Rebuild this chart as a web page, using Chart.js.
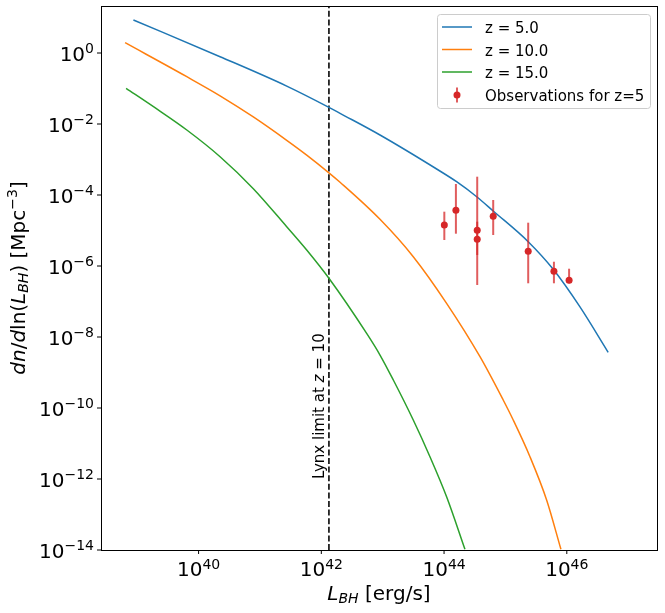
<!DOCTYPE html>
<html>
<head>
<meta charset="utf-8">
<script src="https://cdn.jsdelivr.net/npm/chart.js@4.4.1/dist/chart.umd.min.js"></script>
<style>
  html, body { margin: 0; padding: 0; background: #fff; }
  #wrap { width: 665px; height: 613px; }
</style>
</head>
<body>
<div id="wrap"><canvas id="chart" width="665" height="613"></canvas></div>
<script>
const FONT = '"DejaVu Sans", sans-serif';

// z = 5 curve
const lumZ5 = [8.67e38, 2.24e40, 2.73e41, 1.33e42, 2.02e42, 9.04e42, 8.05e43, 1.60e44, 3.40e44, 6.32e44, 2.35e45, 6.01e45, 1.63e46, 4.72e46];
const phiZ5 = [8.51, 0.787, 0.117, 0.0295, 0.0200, 4.90e-3, 5.06e-4, 2.37e-4, 8.95e-5, 3.55e-5, 4.84e-6, 8.07e-7, 7.14e-8, 3.71e-9];

// z = 10 curve
const lumZ10 = [6.35e38, 6.43e39, 2.24e40, 7.80e40, 2.73e41, 5.78e41, 1.33e42, 2.02e42, 9.04e42, 3.15e43, 1.10e44, 3.85e44, 9.20e44, 1.34e45, 2.51e45, 4.69e45, 8.02e45];
const phiZ10 = [1.95, 0.215, 0.0624, 0.0158, 3.47e-3, 1.33e-3, 4.22e-4, 2.29e-4, 2.07e-5, 1.83e-6, 8.89e-8, 2.79e-9, 1.68e-10, 4.59e-11, 4.25e-12, 2.56e-13, 1.05e-14];

// z = 15 curve
const lumZ15 = [6.59e38, 1.84e39, 6.43e39, 2.24e40, 7.80e40, 2.73e41, 5.78e41, 1.33e42, 5.48e42, 9.04e42, 1.49e43, 3.15e43, 5.89e43, 1.10e44, 2.19e44];
const phiZ15 = [0.101, 0.0307, 6.78e-3, 1.20e-3, 1.51e-4, 1.28e-5, 2.82e-6, 4.51e-7, 1.26e-8, 3.11e-9, 6.15e-10, 4.59e-11, 4.25e-12, 3.17e-13, 1.05e-14];

// observations for z = 5, with lower / upper ends of the error bars
const obsLum = [1.01e44, 1.56e44, 3.47e44, 3.47e44, 6.32e44, 2.35e45, 6.17e45, 1.09e46];
const obsPhi = [1.43e-5, 3.71e-5, 1.01e-5, 5.65e-6, 2.51e-5, 2.59e-6, 7.10e-7, 3.95e-7];
const obsLo  = [5.40e-6, 8.13e-6, 2.92e-7, 2.04e-6, 7.46e-6, 3.26e-7, 3.26e-7, 3.26e-7];
const obsHi  = [3.39e-5, 2.04e-4, 3.28e-4, 1.77e-5, 7.23e-5, 1.66e-5, 1.32e-6, 8.39e-7];

const lynxLum = 1.33e42;
const lynxTextPhi = 1e-12;

const xRange = [2.57e38, 2.95e47];
const yRange = [1e-14, 21.1];
const xTickExps = [40, 42, 44, 46];
const yTickExps = [0, -2, -4, -6, -8, -10, -12, -14];

const seriesNames = ['z = 5.0', 'z = 10.0', 'z = 15.0'];
const seriesColors = ['#1f77b4', '#ff7f0e', '#2ca02c'];
const obsName = 'Observations for z=5';
const obsColor = '#d62728';

const toPts = (xs, ys) => xs.map((x, i) => ({ x: x, y: ys[i] }));

function drawRich(ctx, segs, x, y, align) {
  let w = 0;
  segs.forEach(s => { ctx.font = s.font; w += ctx.measureText(s.t).width; });
  let cx = align === 'center' ? x - w / 2 : (align === 'right' ? x - w : x);
  ctx.textAlign = 'left';
  segs.forEach(s => {
    ctx.font = s.font;
    ctx.fillText(s.t, cx, y + (s.dy || 0));
    cx += ctx.measureText(s.t).width;
  });
}

const N20 = '20px ' + FONT, I20 = 'italic 20px ' + FONT;
const N14 = '14px ' + FONT, I14 = 'italic 14px ' + FONT;
const N15 = '15px ' + FONT, I15 = 'italic 15px ' + FONT;

const errorBars = {
  id: 'errorBars',
  beforeDatasetDraw(chart, args) {
    if (args.index !== 0) return;
    const ctx = chart.ctx, xs = chart.scales.x, ys = chart.scales.y;
    ctx.save();
    ctx.strokeStyle = 'rgba(214,39,40,0.75)';
    ctx.lineWidth = 2;
    obsLum.forEach((l, i) => {
      const px = xs.getPixelForValue(l);
      ctx.beginPath();
      ctx.moveTo(px, ys.getPixelForValue(obsLo[i]));
      ctx.lineTo(px, ys.getPixelForValue(obsHi[i]));
      ctx.stroke();
    });
    ctx.restore();
  }
};

const decorations = {
  id: 'decorations',
  afterDraw(chart) {
    const ctx = chart.ctx, a = chart.chartArea;
    const xs = chart.scales.x, ys = chart.scales.y;
    ctx.save();
    ctx.fillStyle = '#000';
    ctx.strokeStyle = '#000';

    // frame
    ctx.lineWidth = 1;
    ctx.strokeRect(Math.round(a.left) + 0.5, Math.round(a.top) + 0.5,
                   Math.round(a.right - a.left), Math.round(a.bottom - a.top));

    // x ticks
    ctx.textBaseline = 'alphabetic';
    xTickExps.forEach(e => {
      const px = xs.getPixelForValue(Math.pow(10, e));
      ctx.beginPath();
      ctx.moveTo(px, a.bottom); ctx.lineTo(px, a.bottom + 4);
      ctx.stroke();
      drawRich(ctx, [{ t: '10', font: N20 }, { t: String(e), font: N14, dy: -7.5 }], px, a.bottom + 26, 'center');
    });

    // y ticks
    yTickExps.forEach(e => {
      const py = ys.getPixelForValue(Math.pow(10, e));
      ctx.beginPath();
      ctx.moveTo(a.left, py); ctx.lineTo(a.left - 4, py);
      ctx.stroke();
      const lab = e < 0 ? '\u2212' + Math.abs(e) : String(e);
      drawRich(ctx, [{ t: '10', font: N20 }, { t: lab, font: N14, dy: -7.5 }], a.left - 7, py + 7.5, 'right');
    });

    // x title
    const xc = (a.left + a.right) / 2;
    drawRich(ctx, [
      { t: 'L', font: I20 }, { t: 'BH', font: I14, dy: 2.5 }, { t: ' [erg/s]', font: N20 }
    ], xc, 600, 'center');

    // y title
    ctx.save();
    ctx.translate(25, (a.top + a.bottom) / 2);
    ctx.rotate(-Math.PI / 2);
    drawRich(ctx, [
      { t: 'dn', font: I20 }, { t: '/', font: N20 }, { t: 'd', font: I20 }, { t: 'ln', font: N20 },
      { t: '(', font: N20 }, { t: 'L', font: I20 }, { t: 'BH', font: I14, dy: 3 }, { t: ')', font: N20 },
      { t: ' [Mpc', font: N20 }, { t: '\u22123', font: N14, dy: -8 }, { t: ']', font: N20 }
    ], 0, 0, 'center');
    ctx.restore();

    // Lynx label
    ctx.save();
    ctx.translate(xs.getPixelForValue(lynxLum) - 5, ys.getPixelForValue(lynxTextPhi));
    ctx.rotate(-Math.PI / 2);
    drawRich(ctx, [
      { t: 'Lynx limit at ', font: N15 }, { t: 'z', font: I15 }, { t: ' = 10', font: N15 }
    ], 0, 0, 'left');
    ctx.restore();

    // legend
    ctx.beginPath();
    ctx.roundRect(437.5, 14.5, 213, 94, 3);
    ctx.fillStyle = 'rgba(255,255,255,0.8)';
    ctx.fill();
    ctx.strokeStyle = '#cccccc';
    ctx.stroke();
    const rowY = [27, 49.5, 72, 95];
    seriesNames.forEach((n, i) => {
      ctx.strokeStyle = seriesColors[i];
      ctx.lineWidth = 1.5;
      ctx.beginPath();
      ctx.moveTo(442, rowY[i]); ctx.lineTo(472, rowY[i]);
      ctx.stroke();
      ctx.fillStyle = '#000';
      ctx.font = N15;
      ctx.fillText(n, 485, rowY[i] + 6);
    });
    ctx.strokeStyle = 'rgba(214,39,40,0.75)';
    ctx.lineWidth = 2;
    ctx.beginPath();
    ctx.moveTo(457, rowY[3] - 7.5); ctx.lineTo(457, rowY[3] + 7.5);
    ctx.stroke();
    ctx.fillStyle = obsColor;
    ctx.beginPath();
    ctx.arc(457, rowY[3], 3.5, 0, Math.PI * 2);
    ctx.fill();
    ctx.fillStyle = '#000';
    ctx.font = N15;
    ctx.fillText(obsName, 485, rowY[3] + 6);

    ctx.restore();
  }
};

const lineDs = (i, xs, ys) => ({
  type: 'line',
  label: seriesNames[i],
  data: toPts(xs, ys),
  borderColor: seriesColors[i],
  borderWidth: 1.5,
  pointRadius: 0,
  cubicInterpolationMode: 'monotone',
  order: 1
});

new Chart(document.getElementById('chart'), {
  type: 'line',
  data: {
    datasets: [
      {
        type: 'scatter',
        label: obsName,
        data: toPts(obsLum, obsPhi),
        backgroundColor: obsColor,
        borderColor: obsColor,
        pointRadius: 3.5,
        pointBorderWidth: 0,
        showLine: false,
        order: 0
      },
      lineDs(0, lumZ5, phiZ5),
      lineDs(1, lumZ10, phiZ10),
      lineDs(2, lumZ15, phiZ15),
      {
        type: 'line',
        label: 'Lynx',
        data: [{ x: lynxLum, y: yRange[0] }, { x: lynxLum, y: yRange[1] }],
        borderColor: '#222',
        borderWidth: 1.8,
        borderDash: [6, 2.6],
        pointRadius: 0,
        tension: 0,
        order: 2
      }
    ]
  },
  options: {
    responsive: false,
    animation: false,
    events: [],
    layout: { padding: { top: 6, right: 8, left: 0, bottom: 0 } },
    plugins: { legend: { display: false }, tooltip: { enabled: false } },
    scales: {
      x: {
        type: 'logarithmic',
        min: xRange[0], max: xRange[1], bounds: 'data',
        grid: { display: false }, border: { display: false },
        ticks: { display: false },
        afterBuildTicks: s => { s.ticks = xTickExps.map(e => ({ value: Math.pow(10, e) })); },
        afterFit: s => { s.height = 63; }
      },
      y: {
        type: 'logarithmic',
        min: yRange[0], max: yRange[1], bounds: 'data',
        grid: { display: false }, border: { display: false },
        ticks: { display: false },
        afterBuildTicks: s => { s.ticks = yTickExps.map(e => ({ value: Math.pow(10, e) })); },
        afterFit: s => { s.width = 101; }
      }
    }
  },
  plugins: [errorBars, decorations]
});
</script>
</body>
</html>
